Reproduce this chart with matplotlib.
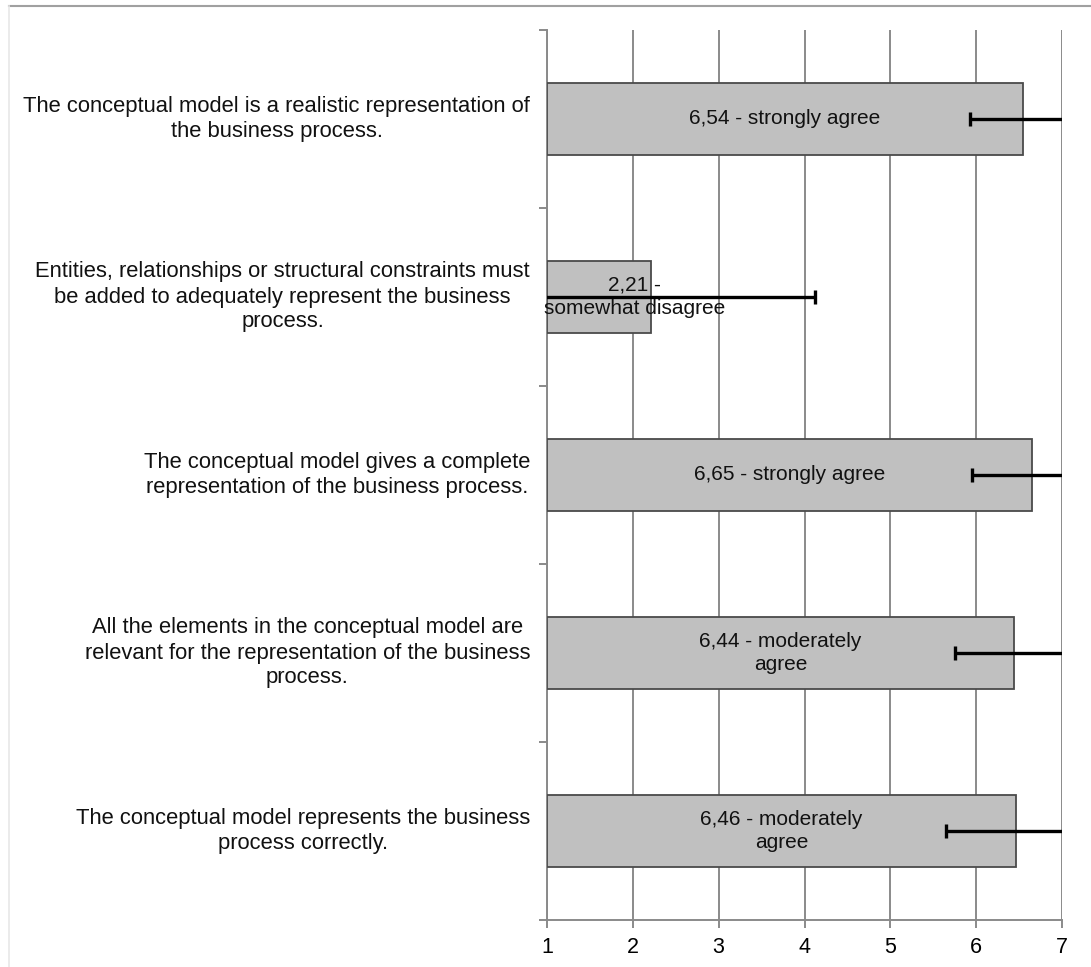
import matplotlib
matplotlib.use("Agg")
import matplotlib.pyplot as plt
from matplotlib.lines import Line2D
import numpy as np

plt.rcParams['font.family'] = ['Liberation Sans', 'DejaVu Sans']

# Survey statements (top to bottom)
statements = [
    "The conceptual model is a realistic representation of\nthe business process.",
    "Entities, relationships or structural constraints must\nbe added to adequately represent the business\nprocess.",
    "The conceptual model gives a complete\nrepresentation of the business process.",
    "All the elements in the conceptual model are\nrelevant for the representation of the business\nprocess.",
    "The conceptual model represents the business\nprocess correctly.",
]
means = [6.54, 2.21, 6.65, 6.44, 6.46]
std_devs = [0.61, 1.91, 0.70, 0.69, 0.81]
value_labels = [
    "6,54 - strongly agree",
    "2,21 -\nsomewhat disagree",
    "6,65 - strongly agree",
    "6,44 - moderately\nagree",
    "6,46 - moderately\nagree",
]
x_ticks = [1, 2, 3, 4, 5, 6, 7]

W, H = 1091, 967
fig = plt.figure(figsize=(W / 100, H / 100), dpi=100)
ax = fig.add_axes([547 / W, 1 - 920 / H, (1062 - 547) / W, (920 - 30) / H])

n = len(means)
ypos = np.arange(n)
base = 1.0
ax.barh(ypos, np.array(means) - base, left=base, height=0.4,
        color='#c0c0c0', edgecolor='#4a4a4a', linewidth=1.3, zorder=3)
ax.errorbar(means, ypos, xerr=std_devs, fmt='none', ecolor='black',
            elinewidth=2.4, capsize=5, capthick=2.4, zorder=4)

# Value labels centred on the bars, nudged right when the bar is too short
for y, v, lab in zip(ypos, means, value_labels):
    xc = max((base + v) / 2, 2.02)
    ax.text(xc, y, lab, ha='center', va='center', fontsize=15,
            multialignment='center', color='#111111', zorder=5,
            linespacing=1.3)

ax.set_xlim(1, 7)
ax.set_ylim(n - 0.5, -0.5)
ax.set_xticks(x_ticks)
ax.set_xticklabels([str(t) for t in x_ticks], fontsize=15.5)
ax.set_yticks(np.arange(-0.5, n, 1.0))
ax.set_yticklabels([])
for y, s in zip(ypos, statements):
    ax.text(-0.033, y, s, transform=ax.get_yaxis_transform(),
            ha='right', va='center', multialignment='center',
            fontsize=15.8, color='#111111', linespacing=1.25)

ax.grid(axis='x', color='#8a8a8a', linewidth=1.4, zorder=0)
ax.set_axisbelow(True)
for side in ('top', 'right'):
    ax.spines[side].set_visible(False)
for side in ('left', 'bottom'):
    ax.spines[side].set_color('#8a8a8a')
    ax.spines[side].set_linewidth(1.4)
ax.tick_params(axis='both', direction='out', length=6, width=1.4,
               color='#8a8a8a', pad=6)

# Figure frame lines
fig.add_artist(Line2D([9 / W, 1], [1 - 6 / H, 1 - 6 / H],
                      transform=fig.transFigure, color='#a0a0a0', lw=1.5))
fig.add_artist(Line2D([9 / W, 9 / W], [0, 1 - 6 / H],
                      transform=fig.transFigure, color='#e8e8e8', lw=1.2))

fig.savefig("out.png", dpi=100)
